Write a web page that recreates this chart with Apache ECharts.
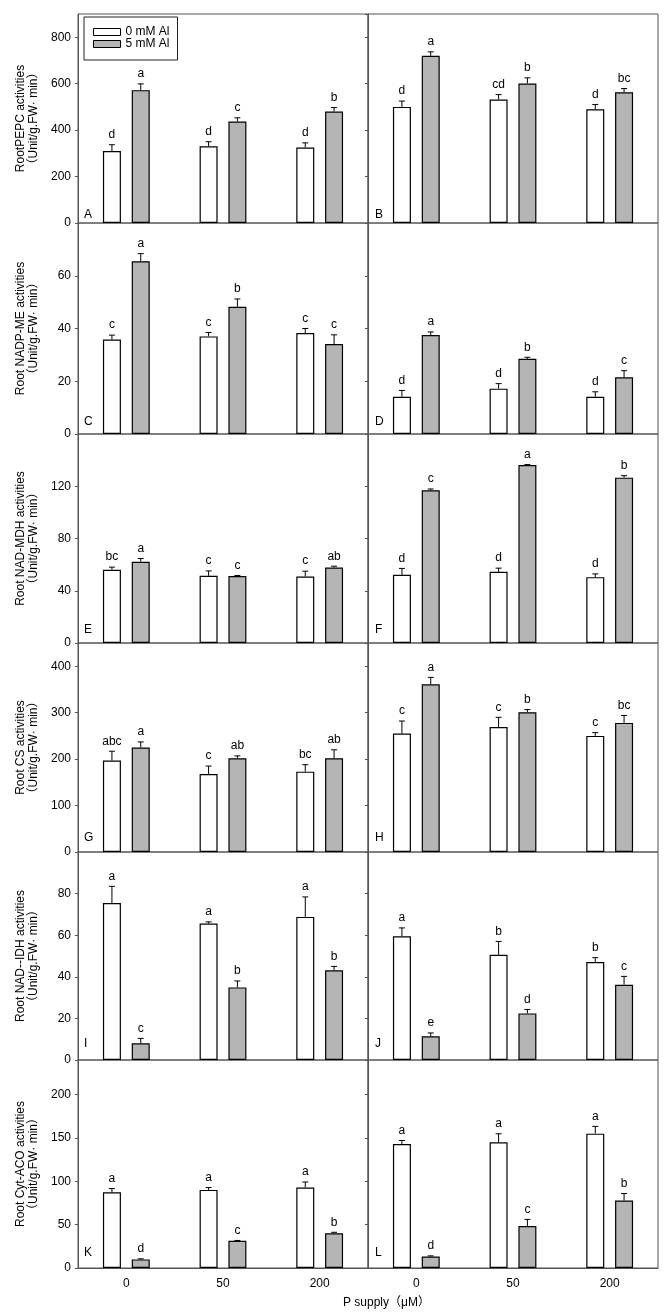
<!DOCTYPE html>
<html>
<head>
<meta charset="utf-8">
<script src="https://cdn.jsdelivr.net/npm/echarts@6/dist/echarts.min.js"></script>
<style>
  html, body { margin: 0; padding: 0; background: #fff; }
  #chart { width: 667px; height: 1312px; }
</style>
</head>
<body>
<div id="chart"></div>
<script>
// P supply levels
var categories = ['0', '50', '200'];
var seriesNames = ['0 mM Al', '5 mM Al'];
var panelLetters = ['A', 'B', 'C', 'D', 'E', 'F', 'G', 'H', 'I', 'J', 'K', 'L'];

// one entry per row
var yNames = [
  'RootPEPC activities\n（Unit/g.FW· min）',
  'Root NADP-ME activities\n（Unit/g.FW· min）',
  'Root NAD-MDH activities\n（Unit/g.FW· min）',
  'Root CS activities\n（Unit/g.FW· min）',
  'Root NAD--IDH activities\n（Unit/g.FW· min）',
  'Root Cyt-ACO activities\n（Unit/g.FW· min）'
];
var yMax = [900, 80, 160, 450, 100, 240];
var yInterval = [200, 20, 40, 100, 20, 50];

// one entry per panel A..L, values for P = 0, 50, 200
var mean0 = [
  [310, 330, 325], [500, 532, 490],
  [35.8, 37.0, 38.3], [14.1, 17.2, 14.1],
  [56.0, 51.4, 50.9], [52.2, 54.5, 50.4],
  [197, 168, 173], [255, 269, 250],
  [75.5, 65.6, 68.8], [59.5, 50.6, 47.1],
  [87.4, 90.1, 92.8], [143, 145, 155]
];
var err0 = [
  [27, 20, 20], [25, 21, 20],
  [1.7, 1.5, 1.7], [2.4, 1.9, 1.9],
  [2.1, 3.8, 4.1], [4.9, 2.8, 2.5],
  [20, 17, 15], [27, 21, 7],
  [8, 0.8, 9.6], [4.0, 6.4, 2.1],
  [4.2, 2.7, 6.4], [4.1, 9.9, 8.4]
];
var mean5 = [
  [572, 437, 480], [720, 601, 563],
  [65.5, 48.2, 34.1], [37.5, 28.5, 21.5],
  [62.2, 51.2, 57.8], [116.9, 136.3, 126.6],
  [225, 202, 202], [361, 301, 278],
  [8.0, 34.9, 43.1], [11.4, 22.4, 36.2],
  [9.9, 31.3, 40.1], [13.3, 48.5, 77.9]
];
var err5 = [
  [27, 16, 17], [17, 24, 16],
  [2.9, 3.0, 3.5], [1.2, 0.6, 2.5],
  [2.5, 0.5, 1.0], [1.0, 0.3, 1.5],
  [12, 5, 18], [15, 5.7, 16],
  [2.4, 3.1, 1.9], [1.6, 1.9, 4.0],
  [0.7, 0.5, 1.1], [0.7, 7.6, 8.0]
];
var sig0 = [
  ['d', 'd', 'd'], ['d', 'cd', 'd'],
  ['c', 'c', 'c'], ['d', 'd', 'd'],
  ['bc', 'c', 'c'], ['d', 'd', 'd'],
  ['abc', 'c', 'bc'], ['c', 'c', 'c'],
  ['a', 'a', 'a'], ['a', 'b', 'b'],
  ['a', 'a', 'a'], ['a', 'a', 'a']
];
var sig5 = [
  ['a', 'c', 'b'], ['a', 'b', 'bc'],
  ['a', 'b', 'c'], ['a', 'b', 'c'],
  ['a', 'c', 'ab'], ['c', 'a', 'b'],
  ['a', 'ab', 'ab'], ['a', 'b', 'bc'],
  ['c', 'b', 'b'], ['e', 'd', 'c'],
  ['d', 'c', 'b'], ['d', 'c', 'b']
];

// layout
var rowTops = [14, 223, 434, 643, 852, 1060];
var rowHeights = [209, 211, 209, 209, 208, 208];
var colLefts = [78, 368];
var colWidth = 290;
var letterLift = [7.5, 11, 12, 13, 15, 14];
var FONT = '"Liberation Sans", Arial, "Noto Sans CJK SC", sans-serif';
var barColors = ['#ffffff', '#b5b5b5'];
var BAR_W = 18;
var BAR_OFF = 14.4; // half of bar width + gap

var chart = echarts.init(document.getElementById('chart'));

function errRender (offset, sigs) {
  return function (params, api) {
    var c = api.value(0);
    var m = api.value(1);
    var e = api.value(2);
    var p0 = api.coord([c, m]);
    var p1 = api.coord([c, m + e]);
    var x = p0[0] + offset;
    return {
      type: 'group',
      children: [
        {type: 'line', shape: {x1: x, y1: p0[1], x2: x, y2: p1[1]}, style: {stroke: '#000', lineWidth: 1}},
        {type: 'line', shape: {x1: x - 3, y1: p1[1], x2: x + 3, y2: p1[1]}, style: {stroke: '#000', lineWidth: 1}},
        {
          type: 'text',
          style: {
            text: sigs[params.dataIndex], x: x, y: p1[1] - 4,
            align: 'center', verticalAlign: 'bottom',
            textAlign: 'center', textVerticalAlign: 'bottom',
            font: '12px ' + FONT, fill: '#000'
          }
        }
      ]
    };
  };
}

var grids = [], xAxes = [], yAxes = [], series = [], graphics = [];

for (var k = 0; k < 12; k++) {
  var row = Math.floor(k / 2), col = k % 2;
  grids.push({
    left: colLefts[col], top: rowTops[row], width: colWidth, height: rowHeights[row],
    show: true, borderColor: '#555', borderWidth: 1, backgroundColor: 'transparent'
  });
  xAxes.push({
    type: 'category', gridIndex: k, data: categories, boundaryGap: true,
    axisLine: {show: row === 5, lineStyle: {color: '#555'}},
    axisTick: {show: false},
    axisLabel: {show: row === 5, fontSize: 12, color: '#000', fontFamily: FONT, margin: 10}
  });
  yAxes.push({
    type: 'value', gridIndex: k, min: 0, max: yMax[row], interval: yInterval[row],
    name: col === 0 ? yNames[row] : '',
    nameLocation: 'middle', nameRotate: 90, nameGap: 38,
    nameTextStyle: {fontSize: 12, lineHeight: 13, color: '#000', fontFamily: FONT},
    axisLine: {show: true, lineStyle: {color: '#555'}},
    axisTick: {show: true, length: 3, lineStyle: {color: '#555'}},
    axisLabel: {show: col === 0, showMaxLabel: false, fontSize: 12, color: '#000', fontFamily: FONT, margin: 7},
    splitLine: {show: false}
  });
  [mean0, mean5].forEach(function (means, s) {
    series.push({
      name: seriesNames[s], type: 'bar', xAxisIndex: k, yAxisIndex: k,
      barWidth: BAR_W, barGap: '60%',
      itemStyle: {color: barColors[s], borderColor: '#000', borderWidth: 1.2},
      data: means[k]
    });
  });
  [[mean0, err0, sig0, -BAR_OFF], [mean5, err5, sig5, BAR_OFF]].forEach(function (d) {
    series.push({
      type: 'custom', xAxisIndex: k, yAxisIndex: k, z: 5,
      renderItem: errRender(d[3], d[2][k]),
      data: d[0][k].map(function (v, i) { return [i, v, d[1][k][i]]; })
    });
  });
  graphics.push({
    type: 'text', left: colLefts[col] + (col === 0 ? 6 : 7),
    top: rowTops[row] + rowHeights[row] - letterLift[row] - 7,
    style: {text: panelLetters[k], font: '12px ' + FONT, fill: '#000'}
  });
}

graphics.push({
  type: 'text', left: 343, top: 1297,
  style: {text: 'P supply（μM）', font: '12px ' + FONT, fill: '#000'}
});

chart.setOption({
  animation: false,
  textStyle: {fontFamily: FONT},
  legend: {
    orient: 'vertical', left: 84, top: 17,
    padding: [9, 8, 10, 9],
    borderColor: '#222', borderWidth: 1, backgroundColor: '#fff',
    itemWidth: 27, itemHeight: 7, itemGap: 0, selectedMode: false,
    textStyle: {fontSize: 12, lineHeight: 12, color: '#000', fontFamily: FONT},
    data: [
      {name: seriesNames[0], icon: 'rect', itemStyle: {color: barColors[0], borderColor: '#000', borderWidth: 1}},
      {name: seriesNames[1], icon: 'rect', itemStyle: {color: barColors[1], borderColor: '#000', borderWidth: 1}}
    ]
  },
  grid: grids,
  xAxis: xAxes,
  yAxis: yAxes,
  series: series,
  graphic: graphics
});
</script>
</body>
</html>
